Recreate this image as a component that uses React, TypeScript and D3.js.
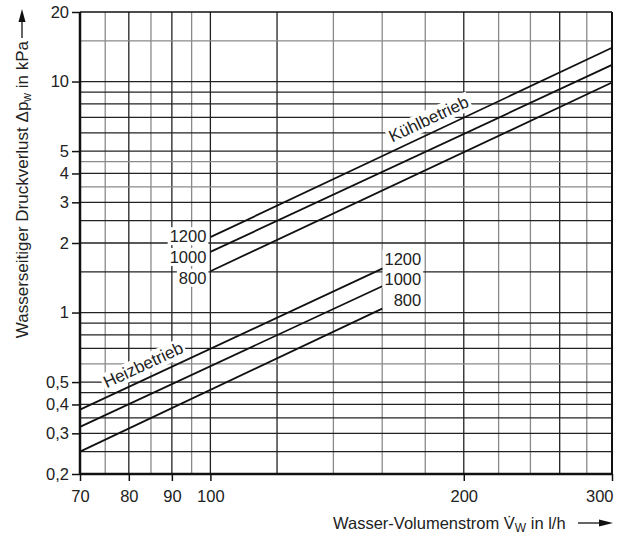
import React, { useEffect, useRef } from "react";
import * as d3 from "d3";

// axes
const flowTicks = [70, 80, 90, 100, 200, 300];
const flowGrid = [75, 80, 85, 90, 95, 100, 120, 140, 160, 180, 200, 220, 240, 260, 280];
const flowGridGrey = [75, 85, 95, 140, 160, 180, 220, 240, 280];
const dpTicks = [0.2, 0.3, 0.4, 0.5, 1, 2, 3, 4, 5, 10, 20];
const dpGrid = [0.25, 0.3, 0.35, 0.4, 0.45, 0.5, 0.6, 0.7, 0.8, 0.9, 1, 1.5, 2, 2.5, 3, 3.5, 4, 4.5, 5, 6, 7, 8, 9, 10, 15];
const dpGridGrey = [15, 4.5, 3.5, 0.6];

// Kühlbetrieb (cooling), flow 100..300 l/h
const coolFlow = [100, 300];
const cool1200 = [2.12, 14.0];
const cool1000 = [1.83, 11.8];
const cool800 = [1.51, 9.9];

// Heizbetrieb (heating), flow 70..160 l/h
const heatFlow = [70, 160];
const heat1200 = [0.38, 1.55];
const heat1000 = [0.32, 1.3];
const heat800 = [0.25, 1.04];

const sizeLabels = ["1200", "1000", "800"];
const coolNameFlow = 166;
const heatNameFlow = 76;

const W = 623;
const H = 536;
const FONT = "'Liberation Sans', Arial, sans-serif";

export default function App() {
  const ref = useRef<SVGSVGElement>(null);

  useEffect(() => {
    const svg = d3.select(ref.current);
    svg.selectAll("*").remove();
    svg.style("font-family", FONT);

    const margin = { top: 12, right: 11, bottom: 62, left: 80 };
    const x = d3.scaleLog().domain([70, 300]).range([margin.left, W - margin.right]);
    const y = d3.scaleLog().domain([0.2, 20]).range([H - margin.bottom, margin.top]);
    const [x0, x1] = x.range();
    const [y0, y1] = y.range();

    // grid
    const grid = svg.append("g");
    grid.selectAll(".vg").data(flowGrid).enter().append("line")
      .attr("x1", d => x(d)).attr("x2", d => x(d))
      .attr("y1", y0).attr("y2", y1)
      .attr("stroke", d => flowGridGrey.includes(d) ? "#8a8a8a" : "#222")
      .attr("stroke-width", 1.3);
    grid.selectAll(".hg").data(dpGrid).enter().append("line")
      .attr("x1", x0).attr("x2", x1)
      .attr("y1", d => y(d)).attr("y2", d => y(d))
      .attr("stroke", d => dpGridGrey.includes(d) ? "#8a8a8a" : "#222")
      .attr("stroke-width", 1.3);

    // frame
    const frame = svg.append("g").attr("stroke", "#111").attr("fill", "none");
    frame.append("line").attr("x1", x0).attr("x2", x1).attr("y1", y1).attr("y2", y1).attr("stroke-width", 1.5);
    frame.append("line").attr("x1", x1).attr("x2", x1).attr("y1", y0).attr("y2", y1).attr("stroke-width", 2);
    frame.append("line").attr("x1", x0).attr("x2", x1).attr("y1", y0).attr("y2", y0).attr("stroke-width", 2.5);
    frame.append("line").attr("x1", x0).attr("x2", x0).attr("y1", y0).attr("y2", y1).attr("stroke-width", 2.5);

    // axes
    const fmt = (d: any) => String(d).replace(".", ",");
    const yAxis = svg.append("g")
      .attr("transform", `translate(${x0},0)`)
      .call(d3.axisLeft(y).tickValues(dpTicks).tickFormat(fmt).tickSize(8).tickPadding(3));
    const xAxis = svg.append("g")
      .attr("transform", `translate(0,${y0})`)
      .call(d3.axisBottom(x).tickValues(flowTicks).tickFormat(fmt).tickSize(7).tickPadding(9));
    [yAxis, xAxis].forEach(g => {
      g.select(".domain").remove();
      g.attr("font-family", FONT).attr("font-size", 16.5);
      g.selectAll("line").attr("stroke", "#111").attr("stroke-width", 1.5);
      g.selectAll("text").attr("fill", "#222");
    });
    // last flow label sits flush with the right edge
    xAxis.selectAll<SVGTextElement, number>("text")
      .filter(d => d === flowTicks[flowTicks.length - 1])
      .attr("text-anchor", "end").attr("x", 1);

    // label with white box behind it
    const boxed = (parent: any, txt: string, tx: number, ty: number, anchor: string, size: number) => {
      const g = parent.append("g");
      const t = g.append("text")
        .attr("x", tx).attr("y", ty)
        .attr("text-anchor", anchor)
        .attr("font-size", size).attr("fill", "#222")
        .text(txt);
      const b = (t.node() as SVGTextElement).getBBox();
      g.insert("rect", "text")
        .attr("x", b.x - 2).attr("y", b.y).attr("width", b.width + 4).attr("height", b.height)
        .attr("fill", "#fff");
      return g;
    };

    const line = d3.line<[number, number]>().x(d => x(d[0])).y(d => y(d[1]));
    const curves = [
      { flow: coolFlow, dp: cool1200 }, { flow: coolFlow, dp: cool1000 }, { flow: coolFlow, dp: cool800 },
      { flow: heatFlow, dp: heat1200 }, { flow: heatFlow, dp: heat1000 }, { flow: heatFlow, dp: heat800 },
    ];
    svg.append("g").selectAll("path").data(curves).enter().append("path")
      .attr("fill", "none").attr("stroke", "#111").attr("stroke-width", 1.8)
      .attr("d", c => line(c.flow.map((f, i) => [f, c.dp[i]] as [number, number])));

    // size labels
    const labels = svg.append("g");
    const coolTop = y(cool1200[0]);
    sizeLabels.forEach((s, i) => {
      boxed(labels, s, x(coolFlow[0]) - 4, coolTop + 5 + i * 20.8, "end", 16.5);
    });
    const heatTop = y(heat1200[1]);
    sizeLabels.forEach((s, i) => {
      boxed(labels, s, x(heatFlow[1]) + 39, heatTop - 4 + i * 20.8, "end", 16.5);
    });

    // rotated mode names
    const modeName = (txt: string, flow: number[], dp: number[], at: number) => {
      const ang = Math.atan2(y(dp[1]) - y(dp[0]), x(flow[1]) - x(flow[0])) * 180 / Math.PI;
      const k = Math.log(dp[1] / dp[0]) / Math.log(flow[1] / flow[0]);
      const v = dp[0] * Math.pow(at / flow[0], k);
      const g = labels.append("g").attr("transform", `translate(${x(at)},${y(v)}) rotate(${ang})`);
      boxed(g, txt, 0, -8, "start", 17);
    };
    modeName("Kühlbetrieb", coolFlow, cool1200, coolNameFlow);
    modeName("Heizbetrieb", heatFlow, heat1200, heatNameFlow);

    // y title
    const yt = svg.append("text")
      .attr("transform", `translate(28,41) rotate(-90)`)
      .attr("text-anchor", "end").attr("font-size", 17).attr("fill", "#222");
    yt.append("tspan").text("Wasserseitiger Druckverlust Δp");
    yt.append("tspan").attr("font-size", 12).attr("dy", 3).text("w");
    yt.append("tspan").attr("dy", -3).text(" in kPa");
    svg.append("line").attr("x1", 22).attr("x2", 22).attr("y1", 38).attr("y2", 20)
      .attr("stroke", "#111").attr("stroke-width", 1.3);
    svg.append("path").attr("d", "M22,9 L18.5,22 L25.5,22 Z").attr("fill", "#111");

    // x title
    const xt = svg.append("text")
      .attr("x", 333).attr("y", 529).attr("font-size", 16.5).attr("fill", "#222");
    xt.append("tspan").text("Wasser-Volumenstrom V\u0307");
    xt.append("tspan").attr("font-size", 12).attr("dy", 3).text("W");
    xt.append("tspan").attr("dy", -3).text(" in l/h");
    svg.append("line").attr("x1", 578).attr("x2", 600).attr("y1", 523).attr("y2", 523)
      .attr("stroke", "#111").attr("stroke-width", 1.3);
    svg.append("path").attr("d", "M613,523 L599,519.5 L599,526.5 Z").attr("fill", "#111");
  }, []);

  return (
    <svg ref={ref} width={W} height={H}
      style={{ position: "absolute", left: 0, top: 0, background: "#fff" }} />
  );
}
